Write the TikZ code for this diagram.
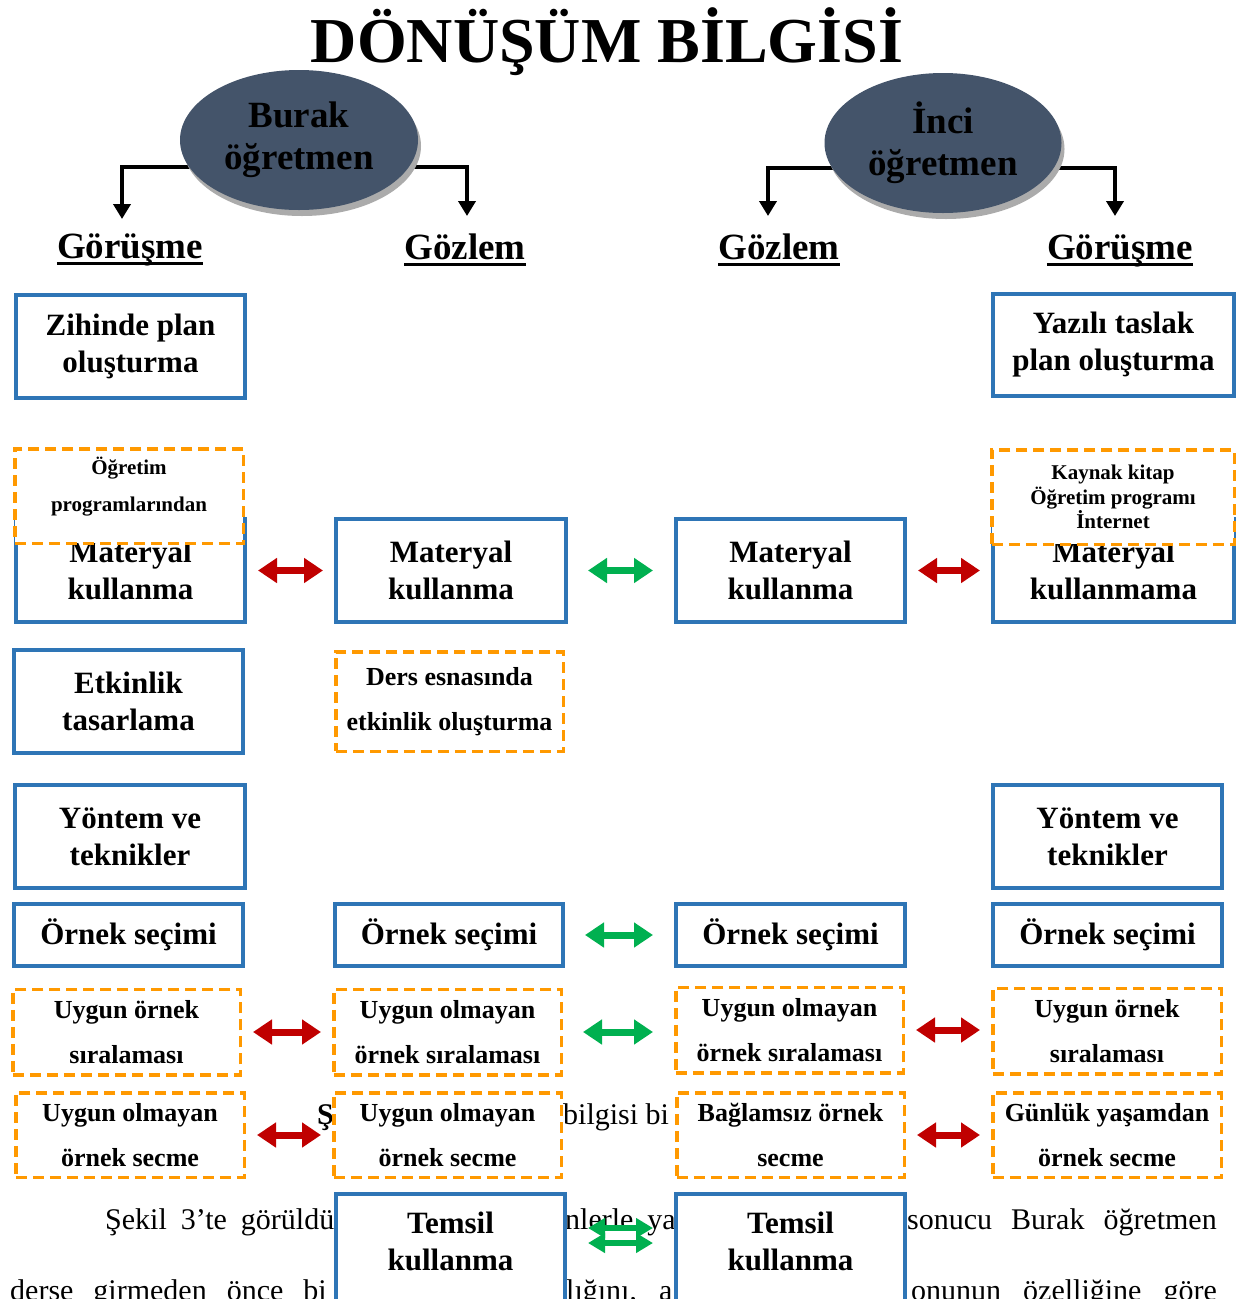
\documentclass[tikz,border=0pt]{standalone}
\usepackage{fontspec}
\setmainfont{Liberation Serif}
\usetikzlibrary{arrows.meta,shapes.geometric,calc}
\definecolor{bblue}{HTML}{2E75B6}
\definecolor{dorange}{HTML}{FF9900}
\definecolor{ared}{HTML}{C00000}
\definecolor{agreen}{HTML}{00B050}
\definecolor{slate}{HTML}{44546A}
\begin{document}
\begin{tikzpicture}[x=1pt,y=-1pt,
  sz/.style 2 args={minimum width=#1pt,minimum height=#2pt},
  bbox/.style={draw=bblue,line width=4pt,fill=white,align=center,inner sep=0pt,font=\bfseries\fontsize{31}{37}\selectfont},
  dbox/.style={draw=dorange,line width=3.5pt,dash pattern=on 11pt off 6pt,fill=white,align=center,inner sep=0pt,font=\bfseries\fontsize{26}{45}\selectfont},
  btext/.style={align=center,inner sep=0pt,font=\bfseries\fontsize{31}{37}\selectfont},
  stext/.style={align=center,inner sep=0pt,font=\bfseries\fontsize{21}{37}\selectfont},
  ell/.style={ellipse,fill=slate,inner sep=0pt,align=center,font=\bfseries\fontsize{37}{42}\selectfont},
  heading/.style={anchor=base,inner sep=0pt,font=\bfseries\fontsize{37}{40}\selectfont},
  uline/.style={line width=3pt},
  blkarr/.style={line width=4pt,-{Triangle[width=17pt,length=15pt]}},
  redarr/.style={draw=ared,line width=7pt,{Triangle[width=24pt,length=19pt]}-{Triangle[width=24pt,length=19pt]},shorten <=11pt,shorten >=11pt},
  greenarr/.style={draw=agreen,line width=7pt,{Triangle[width=24pt,length=19pt]}-{Triangle[width=24pt,length=19pt]},shorten <=20pt,shorten >=21pt},
  greenthin/.style={draw=agreen,line width=6pt,{Triangle[width=19pt,length=17pt]}-{Triangle[width=19pt,length=17pt]},shorten <=21pt,shorten >=21pt},
  bodytxt/.style={inner sep=0pt,font=\fontsize{30}{36}\selectfont}
]
\useasboundingbox (0,0) rectangle (1239,1299);
\fill[white] (0,0) rectangle (1239,1299);

% body text of the page behind the figure
\node[bodytxt,anchor=base west] (f1) at (317,1124) {\bfseries Ş};
\node[bodytxt,anchor=base west] (f2) at (563,1124) {bilgisi bi};
\node[bodytxt,anchor=base west] (f3) at (105,1229) {Şekil\hspace{14pt}3’te\hspace{14pt}görüldü};
\node[bodytxt,anchor=base west] (f4) at (565,1229) {nlerle\hspace{14pt}ya};
\node[bodytxt,anchor=base east] (f5) at (1217,1229) {sonucu\hspace{19pt}Burak\hspace{19pt}öğretmen};
\node[bodytxt,anchor=base west] (f6) at (10,1300) {derse\hspace{20pt}girmeden\hspace{20pt}önce\hspace{20pt}bi};
\node[bodytxt,anchor=base west] (f7) at (566,1300) {lığını,\hspace{22pt}a};
\node[bodytxt,anchor=base east] (f8) at (1217,1300) {onunun\hspace{22pt}özelliğine\hspace{22pt}göre};

% title
\node[anchor=base,inner sep=0pt,font=\bfseries\fontsize{64}{70}\selectfont] (title) at (607,62) {DÖNÜŞÜM BİLGİSİ};

% headings
\node[heading] (hG1) at (130,258) {Görüşme};
\node[heading] (hZ1) at (465,259) {Gözlem};
\node[heading] (hZ2) at (779,259) {Gözlem};
\node[heading] (hG2) at (1120,259) {Görüşme};
\foreach \h in {hG1,hZ1,hZ2,hG2}
  \draw[uline] ([yshift=-5pt]\h.base west) -- ([yshift=-5pt]\h.base east);

% teacher ellipses (coordinates first for connectors)
\coordinate (bc) at (299,140);
\coordinate (ic) at (943,143);
\coordinate (tip1) at (122,219);
\coordinate (tip2) at (467,216);
\coordinate (tip3) at (768,216);
\coordinate (tip4) at (1115,216);
\draw[blkarr] ([yshift=-27pt]bc) -| (tip1);
\draw[blkarr] ([yshift=-27pt]bc) -| (tip2);
\draw[blkarr] ([yshift=-25pt]ic) -| (tip3);
\draw[blkarr] ([yshift=-25pt]ic) -| (tip4);
\fill[black!33] (302,146) ellipse [x radius=119, y radius=70];
\fill[black!33] (946,149) ellipse [x radius=118.5, y radius=70];
\node[ell,sz={238}{140}] (burak) at (bc) {Burak\\öğretmen};
\node[ell,sz={237}{140}] (inci) at (ic) {İnci\\öğretmen};

% row 1
\node[bbox,sz={229}{103}] (zihin) at (130.5,346.5) {Zihinde plan\\oluşturma};
\node[bbox,sz={241}{102}] (yazili) at (1113.5,345) {Yazılı taslak\\plan oluşturma};

% row 2
\node[bbox,sz={229}{103}] (matA) at (130.5,570.5) {Materyal\\kullanma};
\node[bbox,sz={230}{103}] (matB) at (451,570.5) {Materyal\\kullanma};
\node[bbox,sz={229}{103}] (matC) at (790.5,570.5) {Materyal\\kullanma};
\node[bbox,sz={241}{103}] (matD) at (1113.5,570.5) {Materyal\\kullanmama};
\node[dbox,sz={228.5}{94.5}] (ogr) at (129,496) {};
\node[stext] (ogrT) at (129,487) {Öğretim\\programlarından};
\node[dbox,sz={242.5}{94.5},font=\bfseries\fontsize{21}{24.5}\selectfont] (kay) at (1113,497) {Kaynak kitap\\Öğretim programı\\İnternet};

% row 3
\node[bbox,sz={229}{103}] (etk) at (128.5,701.5) {Etkinlik\\tasarlama};
\node[dbox,sz={227.5}{99.5}] (ders) at (449.5,701.5) {Ders esnasında\\etkinlik oluşturma};

% row 4
\node[bbox,sz={230}{103}] (yonA) at (130,836.5) {Yöntem ve\\teknikler};
\node[bbox,sz={229}{103}] (yonD) at (1107.5,836.5) {Yöntem ve\\teknikler};

% row 5
\node[bbox,sz={229}{62}] (ornA) at (128.5,935) {Örnek seçimi};
\node[bbox,sz={228}{62}] (ornB) at (449,935) {Örnek seçimi};
\node[bbox,sz={229}{62}] (ornC) at (790.5,935) {Örnek seçimi};
\node[bbox,sz={229}{62}] (ornD) at (1107.5,935) {Örnek seçimi};

% row 6
\node[dbox,sz={227.5}{85.5}] (uyA) at (126.5,1032) {Uygun örnek\\sıralaması};
\node[dbox,sz={227.5}{85.5}] (uyB) at (447.5,1032) {Uygun olmayan\\örnek sıralaması};
\node[dbox,sz={227.5}{85.5}] (uyC) at (789.5,1030) {Uygun olmayan\\örnek sıralaması};
\node[dbox,sz={228.5}{85.5}] (uyD) at (1107,1031) {Uygun örnek\\sıralaması};

% row 7
\node[dbox,sz={228.5}{84.5}] (seA) at (130,1135) {Uygun olmayan\\örnek secme};
\node[dbox,sz={227.5}{84.5}] (seB) at (447.5,1135) {Uygun olmayan\\örnek secme};
\node[dbox,sz={227.5}{84.5}] (seC) at (790.5,1135) {Bağlamsız örnek\\secme};
\node[dbox,sz={228.5}{84.5}] (seD) at (1107,1135) {Günlük yaşamdan\\örnek secme};

% row 8
\node[bbox,sz={229}{124}] (temL) at (450.5,1256) {};
\node[btext] (temLt) at (450.5,1241) {Temsil\\kullanma};
\node[bbox,sz={229}{124}] (temR) at (790.5,1256) {};
\node[btext] (temRt) at (790.5,1241) {Temsil\\kullanma};

% arrows
\draw[redarr] (matA.east) -- (matA.east -| matB.west);
\draw[greenarr] (matB.east) -- (matB.east -| matC.west);
\draw[redarr] (matC.east) -- (matC.east -| matD.west);
\draw[greenarr] (ornB.east) -- (ornB.east -| ornC.west);
\draw[redarr] (uyA.east) -- (uyA.east -| uyB.west);
\draw[greenarr] (uyB.east) -- (uyB.east -| uyC.west);
\draw[redarr] (uyC.east) -- (uyC.east -| uyD.west);
\draw[redarr] (seA.east) -- (seA.east -| seB.west);
\draw[redarr] (seC.east) -- (seC.east -| seD.west);
\draw[greenthin] ([yshift=28pt]temL.east) -- ([yshift=28pt]temL.east -| temR.west);
\draw[greenthin] ([yshift=13pt]temL.east) -- ([yshift=13pt]temL.east -| temR.west);
\end{tikzpicture}
\end{document}
